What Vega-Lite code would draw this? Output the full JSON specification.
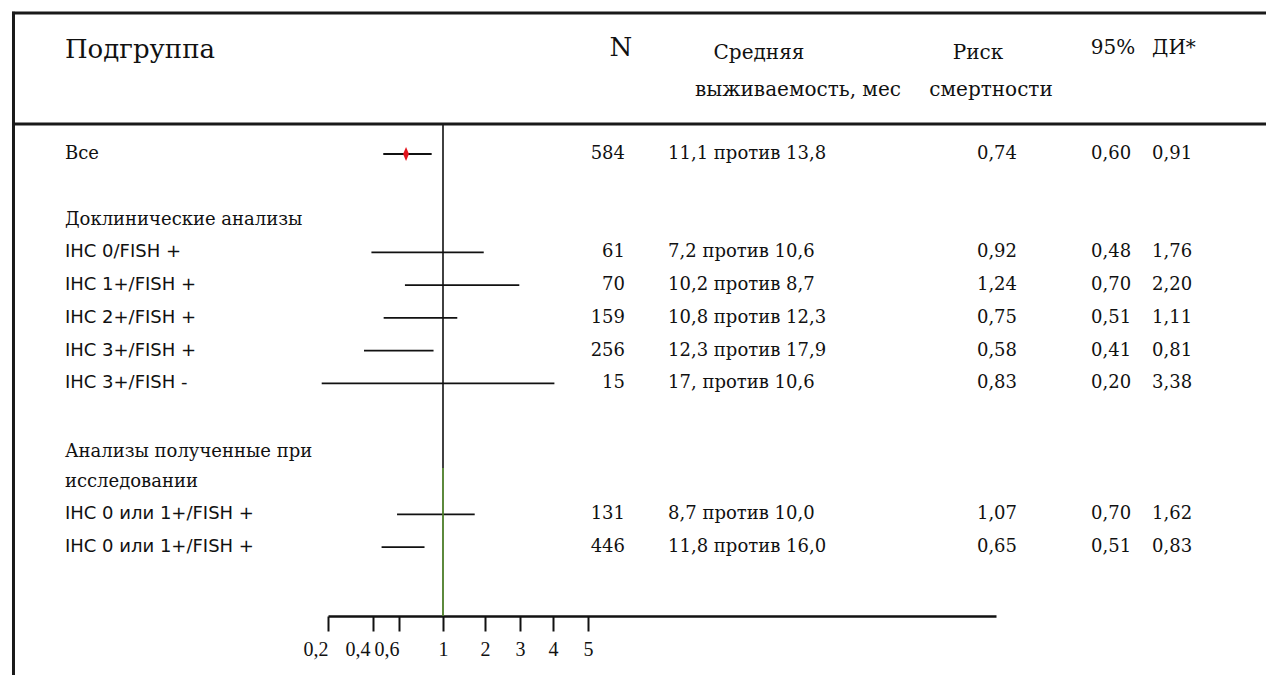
{
  "$schema": "https://vega.github.io/schema/vega-lite/v6.json",
  "width": 1266,
  "height": 616,
  "autosize": {"type": "none"},
  "padding": {"left": 0, "top": 0, "right": 0, "bottom": 59},
  "background": "white",
  "config": {
    "view": {"stroke": null},
    "text": {"font": "DejaVu Serif", "fontSize": 18, "color": "#111111", "baseline": "middle"}
  },
  "datasets": {
    "rows": [
      {"row": 1, "label": "Все", "level": "total", "N": "584", "surv": "11,1 против 13,8", "hr": "0,74", "lo": "0,60", "hi": "0,91", "plot_lo": 0.479, "plot_hi": 0.897, "plot_est": 0.664},
      {"row": 3, "label": "Доклинические анализы", "level": "group"},
      {"row": 4, "label": "IHC 0/FISH +", "level": "subgroup", "N": "61", "surv": "7,2 против 10,6", "hr": "0,92", "lo": "0,48", "hi": "1,76", "plot_lo": 0.393, "plot_hi": 1.97},
      {"row": 5, "label": "IHC 1+/FISH +", "level": "subgroup", "N": "70", "surv": "10,2 против 8,7", "hr": "1,24", "lo": "0,70", "hi": "2,20", "plot_lo": 0.654, "plot_hi": 2.98},
      {"row": 6, "label": "IHC 2+/FISH +", "level": "subgroup", "N": "159", "surv": "10,8 против 12,3", "hr": "0,75", "lo": "0,51", "hi": "1,11", "plot_lo": 0.482, "plot_hi": 1.34},
      {"row": 7, "label": "IHC 3+/FISH +", "level": "subgroup", "N": "256", "surv": "12,3 против 17,9", "hr": "0,58", "lo": "0,41", "hi": "0,81", "plot_lo": 0.36, "plot_hi": 0.914},
      {"row": 8, "label": "IHC 3+/FISH -", "level": "subgroup", "N": "15", "surv": "17, против 10,6", "hr": "0,83", "lo": "0,20", "hi": "3,38", "plot_lo": 0.172, "plot_hi": 4.04},
      {"row": 10.1, "label": "Анализы полученные при\nисследовании", "level": "group"},
      {"row": 12, "label": "IHC 0 или 1+/FISH +", "level": "subgroup", "N": "131", "surv": "8,7 против 10,0", "hr": "1,07", "lo": "0,70", "hi": "1,62", "plot_lo": 0.585, "plot_hi": 1.755},
      {"row": 13, "label": "IHC 0 или 1+/FISH +", "level": "subgroup", "N": "446", "surv": "11,8 против 16,0", "hr": "0,65", "lo": "0,51", "hi": "0,83", "plot_lo": 0.466, "plot_hi": 0.832}
    ]
  },
  "layer": [
    {
      "layer": [
        {
          "data": {"name": "rows"},
          "transform": [{"filter": "isValid(datum.plot_lo)"}],
          "mark": {"type": "rule", "stroke": "#111111", "strokeWidth": 1.8},
          "encoding": {
            "x": {"field": "plot_lo", "type": "quantitative", "title": null,
                  "scale": {"type": "linear", "domain": [0.2, 0.4, 0.6, 1, 2, 3, 4, 5, 50], "range": [328, 373, 399, 443, 485, 520, 553, 588, 996], "nice": false, "zero": false},
                  "axis": {"orient": "bottom", "values": [0.2, 0.4, 0.6, 1, 2, 3, 4, 5], "format": ".1~f", "labelExpr": "replace(datum.label, '.', ',')", "title": null, "grid": false, "domainColor": "#111111", "domainWidth": 2.5, "tickColor": "#111111", "tickWidth": 2, "tickSize": 15, "labelFont": "Liberation Serif", "labelFontSize": 20, "labelColor": "#111111", "labelPadding": 8, "labelFlush": false, "labelOverlap": false, "labelOffset": {"condition": {"test": "datum.value == 0.4", "value": -3}, "value": 0}, "labelAlign": {"condition": {"test": "datum.value < 1", "value": "right"}, "value": "center"}}},
            "x2": {"field": "plot_hi"},
            "y": {"field": "row", "type": "quantitative", "scale": {"domain": [-3.7, 15.1], "reverse": true, "nice": false, "zero": false}, "axis": null}
          }
        },
        {
          "data": {"name": "rows"},
          "transform": [{"filter": "isValid(datum.plot_est)"}],
          "mark": {"type": "point", "shape": "M0,-1L0.42,0L0,1L-0.42,0Z", "filled": true, "color": "#e3141d", "opacity": 1, "size": 196},
          "encoding": {
            "x": {"field": "plot_est", "type": "quantitative", "title": null,
                  "scale": {"type": "linear", "domain": [0.2, 0.4, 0.6, 1, 2, 3, 4, 5, 50], "range": [328, 373, 399, 443, 485, 520, 553, 588, 996], "nice": false, "zero": false},
                  "axis": {"orient": "bottom", "values": [0.2, 0.4, 0.6, 1, 2, 3, 4, 5], "format": ".1~f", "labelExpr": "replace(datum.label, '.', ',')", "title": null, "grid": false, "domainColor": "#111111", "domainWidth": 2.5, "tickColor": "#111111", "tickWidth": 2, "tickSize": 15, "labelFont": "Liberation Serif", "labelFontSize": 20, "labelColor": "#111111", "labelPadding": 8, "labelFlush": false, "labelOverlap": false, "labelOffset": {"condition": {"test": "datum.value == 0.4", "value": -3}, "value": 0}, "labelAlign": {"condition": {"test": "datum.value < 1", "value": "right"}, "value": "center"}}},
            "y": {"field": "row", "type": "quantitative", "scale": {"domain": [-3.7, 15.1], "reverse": true, "nice": false, "zero": false}, "axis": null}
          }
        },
        {
          "data": {"values": [{"ref": 1, "part": "upper"}]},
          "mark": {"type": "rule", "stroke": "#111111", "strokeWidth": 1.6},
          "encoding": {
            "x": {"field": "ref", "type": "quantitative", "title": null,
                  "scale": {"type": "linear", "domain": [0.2, 0.4, 0.6, 1, 2, 3, 4, 5, 50], "range": [328, 373, 399, 443, 485, 520, 553, 588, 996], "nice": false, "zero": false},
                  "axis": {"orient": "bottom", "values": [0.2, 0.4, 0.6, 1, 2, 3, 4, 5], "format": ".1~f", "labelExpr": "replace(datum.label, '.', ',')", "title": null, "grid": false, "domainColor": "#111111", "domainWidth": 2.5, "tickColor": "#111111", "tickWidth": 2, "tickSize": 15, "labelFont": "Liberation Serif", "labelFontSize": 20, "labelColor": "#111111", "labelPadding": 8, "labelFlush": false, "labelOverlap": false, "labelOffset": {"condition": {"test": "datum.value == 0.4", "value": -3}, "value": 0}, "labelAlign": {"condition": {"test": "datum.value < 1", "value": "right"}, "value": "center"}}},
            "y": {"datum": 0.084, "type": "quantitative", "scale": {"domain": [-3.7, 15.1], "reverse": true, "nice": false, "zero": false}, "axis": null},
            "y2": {"datum": 10.58}
          }
        },
        {
          "data": {"values": [{"ref": 1, "part": "lower"}]},
          "mark": {"type": "rule", "stroke": "#4b7d27", "strokeWidth": 1.8},
          "encoding": {
            "x": {"field": "ref", "type": "quantitative", "title": null,
                  "scale": {"type": "linear", "domain": [0.2, 0.4, 0.6, 1, 2, 3, 4, 5, 50], "range": [328, 373, 399, 443, 485, 520, 553, 588, 996], "nice": false, "zero": false},
                  "axis": {"orient": "bottom", "values": [0.2, 0.4, 0.6, 1, 2, 3, 4, 5], "format": ".1~f", "labelExpr": "replace(datum.label, '.', ',')", "title": null, "grid": false, "domainColor": "#111111", "domainWidth": 2.5, "tickColor": "#111111", "tickWidth": 2, "tickSize": 15, "labelFont": "Liberation Serif", "labelFontSize": 20, "labelColor": "#111111", "labelPadding": 8, "labelFlush": false, "labelOverlap": false, "labelOffset": {"condition": {"test": "datum.value == 0.4", "value": -3}, "value": 0}, "labelAlign": {"condition": {"test": "datum.value < 1", "value": "right"}, "value": "center"}}},
            "y": {"datum": 10.58, "type": "quantitative", "scale": {"domain": [-3.7, 15.1], "reverse": true, "nice": false, "zero": false}, "axis": null},
            "y2": {"datum": 15.1}
          }
        }
      ]
    },
    {
      "layer": [
        {
          "data": {"values": [{"frame": "top"}]},
          "mark": {"type": "rule", "stroke": "#1a1a1a", "strokeWidth": 3},
          "encoding": {
            "x": {"datum": 0.95, "type": "quantitative", "scale": {"domain": [0, 100], "nice": false, "zero": false}, "axis": null},
            "x2": {"datum": 100},
            "y": {"datum": -3.3, "type": "quantitative", "scale": {"domain": [-3.7, 15.1], "reverse": true, "nice": false, "zero": false}, "axis": null}
          }
        },
        {
          "data": {"values": [{"frame": "separator"}]},
          "mark": {"type": "rule", "stroke": "#1a1a1a", "strokeWidth": 3},
          "encoding": {
            "x": {"datum": 0.95, "type": "quantitative", "scale": {"domain": [0, 100], "nice": false, "zero": false}, "axis": null},
            "x2": {"datum": 100},
            "y": {"datum": 0.084, "type": "quantitative", "scale": {"domain": [-3.7, 15.1], "reverse": true, "nice": false, "zero": false}, "axis": null}
          }
        },
        {
          "data": {"values": [{"frame": "left"}]},
          "mark": {"type": "rule", "stroke": "#1a1a1a", "strokeWidth": 3},
          "encoding": {
            "x": {"datum": 1.066, "type": "quantitative", "scale": {"domain": [0, 100], "nice": false, "zero": false}, "axis": null},
            "y": {"datum": -3.34, "type": "quantitative", "scale": {"domain": [-3.7, 15.1], "reverse": true, "nice": false, "zero": false}, "axis": null},
            "y2": {"datum": 16.9}
          }
        },
        {
          "data": {"name": "rows"},
          "transform": [{"filter": "datum.level == 'subgroup'"}],
          "mark": {"type": "text", "align": "left", "font": "DejaVu Sans", "fontSize": 18},
          "encoding": {
            "x": {"datum": 5.13, "type": "quantitative", "scale": {"domain": [0, 100], "nice": false, "zero": false}, "axis": null},
            "y": {"field": "row", "type": "quantitative", "scale": {"domain": [-3.7, 15.1], "reverse": true, "nice": false, "zero": false}, "axis": null},
            "text": {"field": "label"}
          }
        },
        {
          "data": {"name": "rows"},
          "transform": [{"filter": "datum.level != 'subgroup'"}],
          "mark": {"type": "text", "align": "left", "lineBreak": "\n", "lineHeight": 30},
          "encoding": {
            "x": {"datum": 5.13, "type": "quantitative", "scale": {"domain": [0, 100], "nice": false, "zero": false}, "axis": null},
            "y": {"field": "row", "type": "quantitative", "scale": {"domain": [-3.7, 15.1], "reverse": true, "nice": false, "zero": false}, "axis": null},
            "text": {"field": "label"}
          }
        },
        {
          "data": {"name": "rows"},
          "transform": [{"filter": "isValid(datum.N)"}],
          "mark": {"type": "text", "align": "right"},
          "encoding": {
            "x": {"datum": 49.37, "type": "quantitative", "scale": {"domain": [0, 100], "nice": false, "zero": false}, "axis": null},
            "y": {"field": "row", "type": "quantitative", "scale": {"domain": [-3.7, 15.1], "reverse": true, "nice": false, "zero": false}, "axis": null},
            "text": {"field": "N"}
          }
        },
        {
          "data": {"name": "rows"},
          "transform": [{"filter": "isValid(datum.surv)"}],
          "mark": {"type": "text", "align": "left"},
          "encoding": {
            "x": {"datum": 52.77, "type": "quantitative", "scale": {"domain": [0, 100], "nice": false, "zero": false}, "axis": null},
            "y": {"field": "row", "type": "quantitative", "scale": {"domain": [-3.7, 15.1], "reverse": true, "nice": false, "zero": false}, "axis": null},
            "text": {"field": "surv"}
          }
        },
        {
          "data": {"name": "rows"},
          "transform": [{"filter": "isValid(datum.hr)"}],
          "mark": {"type": "text", "align": "center"},
          "encoding": {
            "x": {"datum": 78.75, "type": "quantitative", "scale": {"domain": [0, 100], "nice": false, "zero": false}, "axis": null},
            "y": {"field": "row", "type": "quantitative", "scale": {"domain": [-3.7, 15.1], "reverse": true, "nice": false, "zero": false}, "axis": null},
            "text": {"field": "hr"}
          }
        },
        {
          "data": {"name": "rows"},
          "transform": [{"filter": "isValid(datum.lo)"}],
          "mark": {"type": "text", "align": "center"},
          "encoding": {
            "x": {"datum": 87.76, "type": "quantitative", "scale": {"domain": [0, 100], "nice": false, "zero": false}, "axis": null},
            "y": {"field": "row", "type": "quantitative", "scale": {"domain": [-3.7, 15.1], "reverse": true, "nice": false, "zero": false}, "axis": null},
            "text": {"field": "lo"}
          }
        },
        {
          "data": {"name": "rows"},
          "transform": [{"filter": "isValid(datum.hi)"}],
          "mark": {"type": "text", "align": "center"},
          "encoding": {
            "x": {"datum": 92.58, "type": "quantitative", "scale": {"domain": [0, 100], "nice": false, "zero": false}, "axis": null},
            "y": {"field": "row", "type": "quantitative", "scale": {"domain": [-3.7, 15.1], "reverse": true, "nice": false, "zero": false}, "axis": null},
            "text": {"field": "hi"}
          }
        },
        {
          "data": {"values": [{"t": "Подгруппа"}]},
          "mark": {"type": "text", "align": "left", "fontSize": 26},
          "encoding": {
            "x": {"datum": 5.13, "type": "quantitative", "scale": {"domain": [0, 100], "nice": false, "zero": false}, "axis": null},
            "y": {"datum": -2.174, "type": "quantitative", "scale": {"domain": [-3.7, 15.1], "reverse": true, "nice": false, "zero": false}, "axis": null},
            "text": {"field": "t"}
          }
        },
        {
          "data": {"values": [{"t": "N"}]},
          "mark": {"type": "text", "align": "center", "fontSize": 26},
          "encoding": {
            "x": {"datum": 49.05, "type": "quantitative", "scale": {"domain": [0, 100], "nice": false, "zero": false}, "axis": null},
            "y": {"datum": -2.23, "type": "quantitative", "scale": {"domain": [-3.7, 15.1], "reverse": true, "nice": false, "zero": false}, "axis": null},
            "text": {"field": "t"}
          }
        },
        {
          "data": {"values": [{"t": "Средняя"}]},
          "mark": {"type": "text", "align": "center", "fontSize": 20},
          "encoding": {
            "x": {"datum": 59.95, "type": "quantitative", "scale": {"domain": [0, 100], "nice": false, "zero": false}, "axis": null},
            "y": {"datum": -2.083, "type": "quantitative", "scale": {"domain": [-3.7, 15.1], "reverse": true, "nice": false, "zero": false}, "axis": null},
            "text": {"field": "t"}
          }
        },
        {
          "data": {"values": [{"t": "выживаемость, мес"}]},
          "mark": {"type": "text", "align": "center", "fontSize": 20},
          "encoding": {
            "x": {"datum": 63.03, "type": "quantitative", "scale": {"domain": [0, 100], "nice": false, "zero": false}, "axis": null},
            "y": {"datum": -0.954, "type": "quantitative", "scale": {"domain": [-3.7, 15.1], "reverse": true, "nice": false, "zero": false}, "axis": null},
            "text": {"field": "t"}
          }
        },
        {
          "data": {"values": [{"t": "Риск"}]},
          "mark": {"type": "text", "align": "center", "fontSize": 20},
          "encoding": {
            "x": {"datum": 77.25, "type": "quantitative", "scale": {"domain": [0, 100], "nice": false, "zero": false}, "axis": null},
            "y": {"datum": -2.083, "type": "quantitative", "scale": {"domain": [-3.7, 15.1], "reverse": true, "nice": false, "zero": false}, "axis": null},
            "text": {"field": "t"}
          }
        },
        {
          "data": {"values": [{"t": "смертности"}]},
          "mark": {"type": "text", "align": "center", "fontSize": 20},
          "encoding": {
            "x": {"datum": 78.28, "type": "quantitative", "scale": {"domain": [0, 100], "nice": false, "zero": false}, "axis": null},
            "y": {"datum": -0.954, "type": "quantitative", "scale": {"domain": [-3.7, 15.1], "reverse": true, "nice": false, "zero": false}, "axis": null},
            "text": {"field": "t"}
          }
        },
        {
          "data": {"values": [{"t": "95%"}]},
          "mark": {"type": "text", "align": "center", "fontSize": 20},
          "encoding": {
            "x": {"datum": 87.91, "type": "quantitative", "scale": {"domain": [0, 100], "nice": false, "zero": false}, "axis": null},
            "y": {"datum": -2.235, "type": "quantitative", "scale": {"domain": [-3.7, 15.1], "reverse": true, "nice": false, "zero": false}, "axis": null},
            "text": {"field": "t"}
          }
        },
        {
          "data": {"values": [{"t": "ДИ*"}]},
          "mark": {"type": "text", "align": "center", "fontSize": 20},
          "encoding": {
            "x": {"datum": 92.73, "type": "quantitative", "scale": {"domain": [0, 100], "nice": false, "zero": false}, "axis": null},
            "y": {"datum": -2.235, "type": "quantitative", "scale": {"domain": [-3.7, 15.1], "reverse": true, "nice": false, "zero": false}, "axis": null},
            "text": {"field": "t"}
          }
        }
      ]
    }
  ],
  "resolve": {"scale": {"x": "independent"}, "axis": {"x": "independent"}}
}
